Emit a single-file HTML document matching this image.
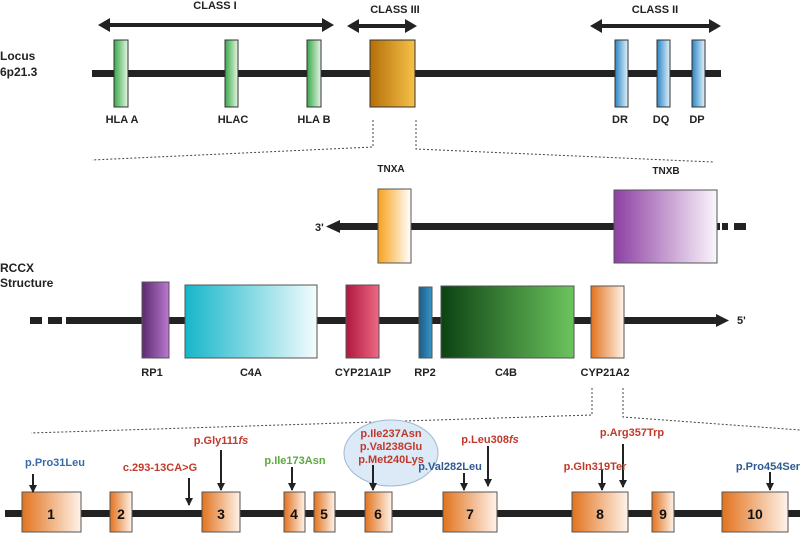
<!DOCTYPE html>
<html><head><meta charset="utf-8"><style>
body{margin:0;background:#fff}
svg{display:block}
text{font-family:"Liberation Sans Narrow","Liberation Sans",sans-serif;font-weight:bold}
</style></head><body>
<svg width="800" height="537" viewBox="0 0 800 537" xmlns="http://www.w3.org/2000/svg">
<defs>
<linearGradient id="gr" x1="0" x2="1"><stop offset="0" stop-color="#3aa84a"/><stop offset="1" stop-color="#e6f6e6"/></linearGradient>
<linearGradient id="bl" x1="0" x2="1"><stop offset="0" stop-color="#2a86c4"/><stop offset="1" stop-color="#e4f2fb"/></linearGradient>
<linearGradient id="gd" x1="0" x2="1"><stop offset="0" stop-color="#b56e08"/><stop offset="1" stop-color="#f6c24a"/></linearGradient>
<linearGradient id="or" x1="0" x2="1"><stop offset="0" stop-color="#f8a21a"/><stop offset="1" stop-color="#fff"/></linearGradient>
<linearGradient id="pu" x1="0" x2="1"><stop offset="0" stop-color="#8d3fa3"/><stop offset="1" stop-color="#fbf6fc"/></linearGradient>
<linearGradient id="rp1" x1="0" x2="1"><stop offset="0" stop-color="#5b2a6e"/><stop offset="1" stop-color="#b978d0"/></linearGradient>
<linearGradient id="cy" x1="0" x2="1"><stop offset="0" stop-color="#16b6ca"/><stop offset="1" stop-color="#f4fcfd"/></linearGradient>
<linearGradient id="rd" x1="0" x2="1"><stop offset="0" stop-color="#b0173e"/><stop offset="1" stop-color="#ec6a85"/></linearGradient>
<linearGradient id="rp2" x1="0" x2="1"><stop offset="0" stop-color="#1c5c86"/><stop offset="1" stop-color="#3a95c8"/></linearGradient>
<linearGradient id="dg" x1="0" x2="1"><stop offset="0" stop-color="#0c4212"/><stop offset="1" stop-color="#6cc45e"/></linearGradient>
<linearGradient id="ex" x1="0" x2="1"><stop offset="0" stop-color="#e2731e"/><stop offset="1" stop-color="#fff3ea"/></linearGradient>
<marker id="ah" markerWidth="8" markerHeight="8" refX="7" refY="4" orient="auto" markerUnits="userSpaceOnUse"><path d="M0,0 L8,4 L0,8 z" fill="#222"/></marker>
</defs>
<g fill="#222">
<line x1="104" y1="25" x2="328" y2="25" stroke="#222" stroke-width="4"/>
<path d="M98,25 L110,18 L110,32z M334,25 L322,18 L322,32z"/>
<line x1="353" y1="26" x2="410" y2="26" stroke="#222" stroke-width="4"/>
<path d="M347,26 L359,19 L359,33z M417,26 L405,19 L405,33z"/>
<line x1="596" y1="26" x2="714" y2="26" stroke="#222" stroke-width="4"/>
<path d="M590,26 L602,19 L602,33z M721,26 L709,19 L709,33z"/>
</g>
<g font-size="11" text-anchor="middle" fill="#222">
<text x="215" y="9">CLASS I</text><text x="395" y="13">CLASS III</text><text x="655" y="13">CLASS II</text>
</g>
<text x="0" y="60" font-size="12" fill="#222">Locus</text><text x="0" y="76" font-size="12" fill="#222">6p21.3</text>
<rect x="92" y="70" width="629" height="7" fill="#222"/>
<g stroke="#333" stroke-width="1">
<rect x="114" y="40" width="14" height="67" fill="url(#gr)"/>
<rect x="225" y="40" width="13" height="67" fill="url(#gr)"/>
<rect x="307" y="40" width="14" height="67" fill="url(#gr)"/>
<rect x="370" y="40" width="45" height="67" fill="url(#gd)"/>
<rect x="615" y="40" width="13" height="67" fill="url(#bl)"/>
<rect x="657" y="40" width="13" height="67" fill="url(#bl)"/>
<rect x="692" y="40" width="13" height="67" fill="url(#bl)"/>
</g>
<g font-size="11" text-anchor="middle" fill="#222">
<text x="122" y="123">HLA A</text><text x="233" y="123">HLAC</text><text x="314" y="123">HLA B</text>
<text x="620" y="123">DR</text><text x="661" y="123">DQ</text><text x="697" y="123">DP</text>
</g>
<g stroke="#444" stroke-width="1" stroke-dasharray="2,2" fill="none">
<path d="M373,120 L373,147 L92,160"/><path d="M416,120 L416,149 L713,162"/>
</g>
<g font-size="10" text-anchor="middle" fill="#222"><text x="391" y="172">TNXA</text><text x="666" y="174">TNXB</text></g>
<rect x="336" y="223" width="384" height="7" fill="#222"/>
<path d="M326,226.5 L340,220 L340,233z" fill="#222"/>
<rect x="722" y="223" width="6" height="7" fill="#222"/><rect x="734" y="223" width="12" height="7" fill="#222"/>
<text x="315" y="231" font-size="11" fill="#222">3'</text>
<g stroke="#555" stroke-width="1">
<rect x="378" y="189" width="33" height="74" fill="url(#or)"/>
<rect x="614" y="190" width="103" height="73" fill="url(#pu)"/>
</g>
<text x="0" y="272" font-size="12" fill="#222">RCCX</text><text x="0" y="287" font-size="12" fill="#222">Structure</text>
<rect x="30" y="317" width="12" height="7" fill="#222"/><rect x="48" y="317" width="14" height="7" fill="#222"/>
<rect x="66" y="317" width="654" height="7" fill="#222"/>
<path d="M729,320.5 L716,314 L716,327z" fill="#222"/>
<text x="737" y="324" font-size="11" fill="#222">5'</text>
<g stroke="#555" stroke-width="1">
<rect x="142" y="282" width="27" height="76" fill="url(#rp1)"/>
<rect x="185" y="285" width="132" height="73" fill="url(#cy)"/>
<rect x="346" y="285" width="33" height="73" fill="url(#rd)"/>
<rect x="419" y="287" width="13" height="71" fill="url(#rp2)"/>
<rect x="441" y="286" width="133" height="72" fill="url(#dg)"/>
<rect x="591" y="286" width="33" height="72" fill="url(#ex)"/>
</g>
<g font-size="11" text-anchor="middle" fill="#222">
<text x="152" y="376">RP1</text><text x="251" y="376">C4A</text><text x="363" y="376">CYP21A1P</text>
<text x="425" y="376">RP2</text><text x="506" y="376">C4B</text><text x="605" y="376">CYP21A2</text>
</g>
<g stroke="#444" stroke-width="1" stroke-dasharray="2,2" fill="none">
<path d="M592,388 L592,415 L31,433"/><path d="M623,388 L623,417 L800,430"/>
</g>
<rect x="5" y="510" width="795" height="7" fill="#222"/>
<g stroke="#555" stroke-width="1">
<rect x="22" y="492" width="59" height="40" fill="url(#ex)"/>
<rect x="110" y="492" width="22" height="40" fill="url(#ex)"/>
<rect x="202" y="492" width="38" height="40" fill="url(#ex)"/>
<rect x="284" y="492" width="21" height="40" fill="url(#ex)"/>
<rect x="314" y="492" width="21" height="40" fill="url(#ex)"/>
<rect x="365" y="492" width="27" height="40" fill="url(#ex)"/>
<rect x="443" y="492" width="54" height="40" fill="url(#ex)"/>
<rect x="572" y="492" width="56" height="40" fill="url(#ex)"/>
<rect x="652" y="492" width="22" height="40" fill="url(#ex)"/>
<rect x="722" y="492" width="66" height="40" fill="url(#ex)"/>
</g>
<g font-size="14" text-anchor="middle" fill="#111">
<text x="51" y="519">1</text><text x="121" y="519">2</text><text x="221" y="519">3</text><text x="294" y="519">4</text>
<text x="324" y="519">5</text><text x="378" y="519">6</text><text x="470" y="519">7</text><text x="600" y="519">8</text>
<text x="663" y="519">9</text><text x="755" y="519">10</text>
</g>
<ellipse cx="391" cy="453" rx="47" ry="33" fill="#dce9f6" stroke="#9fb9d6"/>
<g stroke="#222" stroke-width="2" marker-end="url(#ah)">
<line x1="33" y1="474" x2="33" y2="492"/>
<line x1="189" y1="478" x2="189" y2="505"/>
<line x1="221" y1="450" x2="221" y2="490"/>
<line x1="292" y1="467" x2="292" y2="490"/>
<line x1="373" y1="465" x2="373" y2="490"/>
<line x1="464" y1="473" x2="464" y2="490"/>
<line x1="488" y1="446" x2="488" y2="486"/>
<line x1="602" y1="470" x2="602" y2="490"/>
<line x1="623" y1="444" x2="623" y2="487"/>
<line x1="770" y1="472" x2="770" y2="490"/>
</g>
<g font-size="11" text-anchor="middle">
<text x="55" y="466" fill="#3a6aa8">p.Pro31Leu</text>
<text x="160" y="471" fill="#c0392b">c.293-13CA&gt;G</text>
<text x="221" y="444" fill="#c0392b">p.Gly111<tspan font-style="italic">fs</tspan></text>
<text x="295" y="464" fill="#5aaa3c">p.Ile173Asn</text>
<text x="391" y="437" fill="#c0392b">p.Ile237Asn</text>
<text x="391" y="450" fill="#c0392b">p.Val238Glu</text>
<text x="391" y="463" fill="#c0392b">p.Met240Lys</text>
<text x="450" y="470" fill="#2e5a90">p.Val282Leu</text>
<text x="490" y="443" fill="#c0392b">p.Leu308<tspan font-style="italic">fs</tspan></text>
<text x="595" y="470" fill="#c0392b">p.Gln319Ter</text>
<text x="632" y="436" fill="#c0392b">p.Arg357Trp</text>
<text x="768" y="470" fill="#2e5a90">p.Pro454Ser</text>
</g>
</svg>
</body></html>
